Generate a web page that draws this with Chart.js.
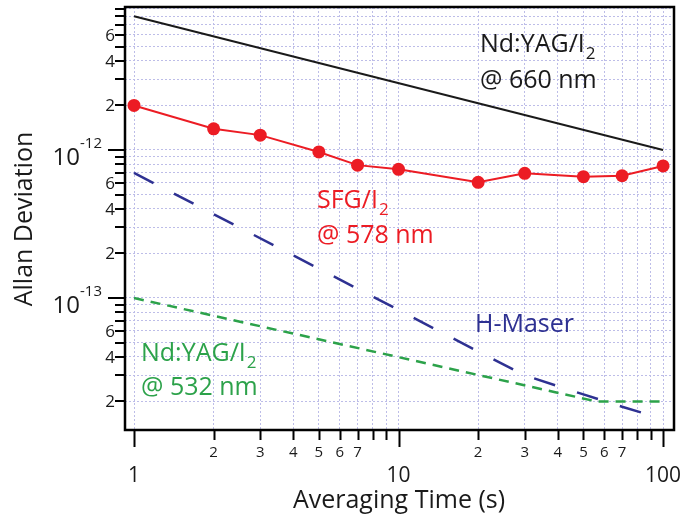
<!DOCTYPE html>
<html>
<head>
<meta charset="utf-8">
<script src="https://cdn.jsdelivr.net/npm/chart.js@4.4.1/dist/chart.umd.min.js"></script>
<style>
  html, body { margin: 0; padding: 0; background: #fff; }
  #wrap { width: 683px; height: 519px; }
</style>
</head>
<body>
<div id="wrap"><canvas id="allan"></canvas></div>
<script>
// === DATA ===
const tauSfg = [1, 2, 3, 5, 7, 10, 20, 30, 50, 70, 100];
const sfg578 = [2.0e-12, 1.39e-12, 1.26e-12, 9.7e-13, 7.9e-13, 7.4e-13, 6.05e-13, 6.95e-13, 6.6e-13, 6.7e-13, 7.8e-13];

const tauNd660 = [1, 100];
const nd660 = [8.0e-12, 1.0e-12];

const tauMaser = [1, 10, 20, 30, 50, 70, 100];
const maser = [7.0e-13, 8.3e-14, 4.35e-14, 3.0e-14, 2.23e-14, 1.84e-14, 1.52e-14];

const tauNd532 = [1, 56, 100];
const nd532 = [1.0e-13, 2.0e-14, 2.0e-14];

const xGridValues = [1, 2, 3, 4, 5, 6, 7, 8, 9, 10, 20, 30, 40, 50, 60, 70, 80, 90, 100];
const xMajorLabels = [1, 10, 100];
const xMinorLabels = [2, 3, 4, 5, 6, 7, 20, 30, 40, 50, 60, 70];

const yGridValues = [2e-14, 3e-14, 4e-14, 5e-14, 6e-14, 7e-14, 8e-14, 9e-14,
  1e-13, 2e-13, 3e-13, 4e-13, 5e-13, 6e-13, 7e-13, 8e-13, 9e-13,
  1e-12, 2e-12, 3e-12, 4e-12, 5e-12, 6e-12, 7e-12, 8e-12, 9e-12];
const yMajorLabels = [1e-13, 1e-12];
const yMajorExp = ['-13', '-12'];
const yMinorLabels = [2e-14, 4e-14, 6e-14, 2e-13, 4e-13, 6e-13, 2e-12, 4e-12, 6e-12];

const pts = (xs, ys) => xs.map((x, i) => ({ x, y: ys[i] }));

const FONT = '"Open Sans", "DejaVu Sans", sans-serif';
const RED = '#ec1c24', BLUE = '#2e3192', GREEN = '#2ca24a', INK = '#1a1a1a';

// text with a subscript tail, e.g. I2
const subText = (ctx, main, sub, x, y, size) => {
  ctx.font = `${size}px ${FONT}`;
  ctx.fillText(main, x, y);
  const w = ctx.measureText(main).width;
  ctx.font = `${Math.round(size * 0.68)}px ${FONT}`;
  ctx.fillText(sub, x + w + 1, y + 7);
};

const axisDecor = {
  id: 'axisDecor',
  afterDraw(chart) {
    const { ctx, chartArea: a, scales: { x, y } } = chart;
    ctx.save();

    // frame
    ctx.strokeStyle = '#000';
    ctx.lineWidth = 2.5;
    ctx.strokeRect(a.left, a.top, a.right - a.left, a.bottom - a.top);

    // tick marks
    ctx.lineWidth = 2;
    ctx.beginPath();
    xGridValues.forEach(v => {
      const px = Math.round(x.getPixelForValue(v)) + 0.5;
      const len = xMajorLabels.includes(v) ? 17 : 10;
      ctx.moveTo(px, a.bottom); ctx.lineTo(px, a.bottom + len);
    });
    yGridValues.forEach(v => {
      const py = Math.round(y.getPixelForValue(v));
      const len = yMajorLabels.includes(v) ? 17 : 10;
      ctx.moveTo(a.left, py); ctx.lineTo(a.left - len, py);
    });
    ctx.stroke();

    // x labels
    ctx.fillStyle = INK;
    ctx.textAlign = 'center';
    ctx.textBaseline = 'alphabetic';
    ctx.font = `15px ${FONT}`;
    xMinorLabels.forEach(v => {
      const lbl = String(v < 10 ? v : v / 10);
      ctx.fillText(lbl, x.getPixelForValue(v), a.bottom + 27);
    });
    ctx.font = `21px ${FONT}`;
    xMajorLabels.forEach(v => ctx.fillText(String(v), x.getPixelForValue(v), a.bottom + 52));

    // y labels
    ctx.textAlign = 'right';
    ctx.textBaseline = 'middle';
    ctx.font = `17px ${FONT}`;
    yMinorLabels.forEach(v => {
      const m = Math.round(v / Math.pow(10, Math.floor(Math.log10(v) + 1e-9)));
      ctx.fillText(String(m), a.left - 10, y.getPixelForValue(v) + 1);
    });
    ctx.textAlign = 'left';
    ctx.textBaseline = 'alphabetic';
    yMajorLabels.forEach((v, i) => {
      const py = y.getPixelForValue(v);
      ctx.font = `15px ${FONT}`;
      const we = ctx.measureText(yMajorExp[i]).width;
      ctx.font = `24px ${FONT}`;
      const wb = ctx.measureText('10').width;
      const right = 102;
      ctx.fillText('10', right - we - wb, py + 15);
      ctx.font = `15px ${FONT}`;
      ctx.fillText(yMajorExp[i], right - we, py - 2);
    });

    // axis titles
    ctx.font = `25px ${FONT}`;
    ctx.textAlign = 'center';
    ctx.fillText('Averaging Time (s)', 399, 508);
    ctx.save();
    ctx.translate(32, 219);
    ctx.rotate(-Math.PI / 2);
    ctx.fillText('Allan Deviation', 0, 0);
    ctx.restore();

    // series labels
    ctx.textAlign = 'left';
    ctx.fillStyle = INK;
    subText(ctx, 'Nd:YAG/I', '2', 480, 52, 25);
    ctx.font = `25px ${FONT}`;
    ctx.fillText('@ 660 nm', 480, 88);

    ctx.fillStyle = RED;
    subText(ctx, 'SFG/I', '2', 317, 208, 25);
    ctx.font = `25px ${FONT}`;
    ctx.fillText('@ 578 nm', 317, 243);

    ctx.fillStyle = GREEN;
    subText(ctx, 'Nd:YAG/I', '2', 141, 361, 25);
    ctx.font = `25px ${FONT}`;
    ctx.fillText('@ 532 nm', 141, 395);

    ctx.fillStyle = BLUE;
    ctx.font = `25px ${FONT}`;
    ctx.fillText('H-Maser', 475, 332);

    ctx.restore();
  }
};

const gridOpts = {
  color: '#bdbde8',
  lineWidth: 1,
  drawTicks: false
};

new Chart(document.getElementById('allan'), {
  type: 'line',
  data: {
    datasets: [
      { label: 'SFG/I2 @ 578 nm', data: pts(tauSfg, sfg578), borderColor: RED, backgroundColor: RED,
        borderWidth: 2, pointRadius: 6.5, pointHoverRadius: 6.5, pointBorderWidth: 0 },
      { label: 'Nd:YAG/I2 @ 660 nm', data: pts(tauNd660, nd660), borderColor: INK,
        borderWidth: 2, pointRadius: 0 },
      { label: 'H-Maser', data: pts(tauMaser, maser), borderColor: BLUE,
        borderWidth: 2.5, borderDash: [22, 23], pointRadius: 0 },
      { label: 'Nd:YAG/I2 @ 532 nm', data: pts(tauNd532, nd532), borderColor: GREEN,
        borderWidth: 2.5, borderDash: [10, 7], pointRadius: 0 }
    ]
  },
  options: {
    responsive: true,
    maintainAspectRatio: false,
    animation: false,
    layout: { padding: { left: 125, right: 9, top: 7, bottom: 89 } },
    plugins: { legend: { display: false }, tooltip: { enabled: false } },
    scales: {
      x: {
        type: 'logarithmic', min: 0.9246, max: 110,
        afterBuildTicks: s => { s.ticks = xGridValues.map(value => ({ value })); },
        ticks: { display: false },
        grid: gridOpts,
        border: { display: false, dash: [2, 2] }
      },
      y: {
        type: 'logarithmic', min: 1.282e-14, max: 9.25e-12,
        afterBuildTicks: s => { s.ticks = yGridValues.map(value => ({ value })); },
        ticks: { display: false },
        grid: gridOpts,
        border: { display: false, dash: [2, 2] }
      }
    }
  },
  plugins: [axisDecor]
});
</script>
</body>
</html>
